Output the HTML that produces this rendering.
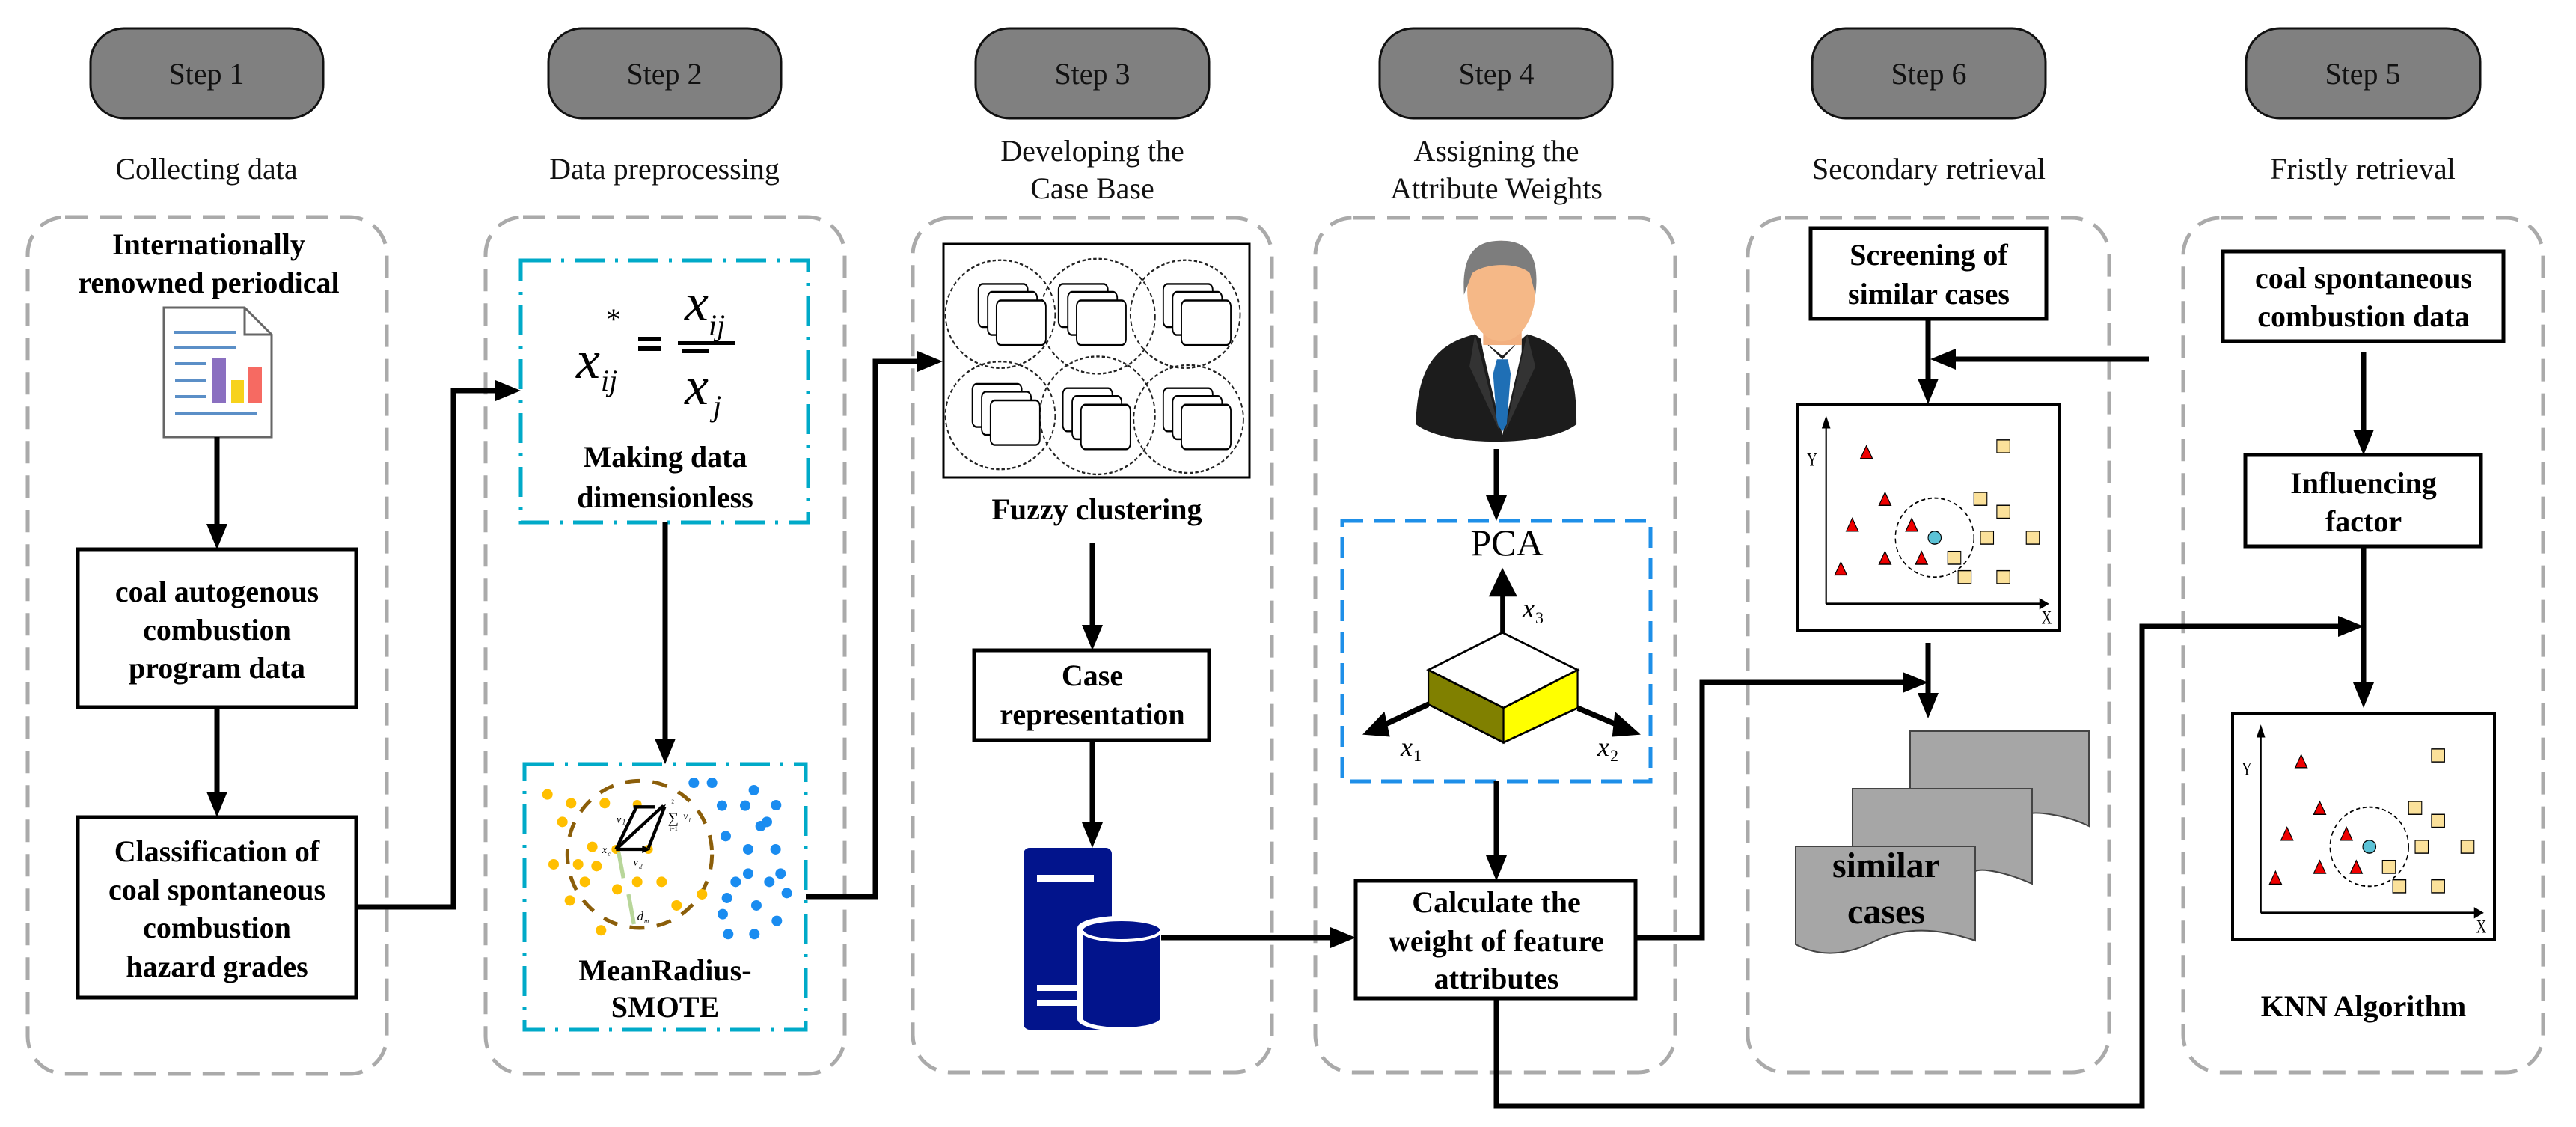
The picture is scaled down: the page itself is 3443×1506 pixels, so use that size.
<!DOCTYPE html>
<html><head><meta charset="utf-8"><style>
html,body{margin:0;padding:0;background:#fff;}
svg{display:block;}
text{font-family:"Liberation Serif",serif;}
.b{font-weight:bold;font-size:40px;}
.r{font-size:40px;}
</style></head><body>
<svg width="3443" height="1506" viewBox="0 0 3443 1506" xmlns="http://www.w3.org/2000/svg">
<rect width="3443" height="1506" fill="#fff"/>
<!-- Step boxes -->
<g fill="#808080" stroke="#111" stroke-width="3">
<rect x="121" y="38" width="311" height="120" rx="45"/>
<rect x="733" y="38" width="311" height="120" rx="45"/>
<rect x="1304" y="38" width="312" height="120" rx="45"/>
<rect x="1844" y="38" width="311" height="120" rx="45"/>
<rect x="2422" y="38" width="312" height="120" rx="45"/>
<rect x="3002" y="38" width="313" height="120" rx="45"/>
</g>
<g class="r" text-anchor="middle" font-size="40" fill="#111">
<text x="276" y="112">Step 1</text>
<text x="888" y="112">Step 2</text>
<text x="1460" y="112">Step 3</text>
<text x="2000" y="112">Step 4</text>
<text x="2578" y="112">Step 6</text>
<text x="3158" y="112">Step 5</text>
<text x="276" y="239">Collecting data</text>
<text x="888" y="239">Data preprocessing</text>
<text x="1460" y="215">Developing the</text>
<text x="1460" y="265">Case Base</text>
<text x="2000" y="215">Assigning the</text>
<text x="2000" y="265">Attribute Weights</text>
<text x="2578" y="239">Secondary retrieval</text>
<text x="3158" y="239">Fristly retrieval</text>
</g>
<!-- Panels -->
<g fill="none" stroke="#aaa" stroke-width="5" stroke-dasharray="30,16">
<rect x="37" y="290" width="480" height="1145" rx="50"/>
<rect x="649" y="290" width="480" height="1145" rx="50"/>
<rect x="1220" y="291" width="480" height="1142" rx="50"/>
<rect x="1758" y="291" width="481" height="1142" rx="50"/>
<rect x="2336" y="291" width="483" height="1142" rx="50"/>
<rect x="2918" y="291" width="481" height="1142" rx="50"/>
</g>

<!-- Panel 1 -->
<g fill="#fff" stroke="#000" stroke-width="5">
<rect x="104" y="734" width="372" height="211"/>
<rect x="104" y="1092" width="372" height="241"/>
</g>
<g class="b" text-anchor="middle">
<text x="279" y="340">Internationally</text>
<text x="279" y="391">renowned periodical</text>
<text x="290" y="804">coal autogenous</text>
<text x="290" y="855">combustion</text>
<text x="290" y="906">program data</text>
<text x="290" y="1151">Classification of</text>
<text x="290" y="1202">coal spontaneous</text>
<text x="290" y="1253">combustion</text>
<text x="290" y="1305">hazard grades</text>
</g>
<!-- doc icon -->
<path d="M219,411 H327 L363,447 V584 H219 Z" fill="#fff" stroke="#666" stroke-width="3"/>
<path d="M327,411 V447 H363" fill="none" stroke="#666" stroke-width="3"/>
<g stroke="#5b8fc7" stroke-width="4">
<line x1="233" y1="444" x2="316" y2="444"/>
<line x1="233" y1="465" x2="316" y2="465"/>
<line x1="234" y1="486" x2="275" y2="486"/>
<line x1="234" y1="508" x2="275" y2="508"/>
<line x1="234" y1="530" x2="275" y2="530"/>
<line x1="234" y1="553" x2="344" y2="553"/>
</g>
<rect x="284" y="478" width="18" height="60" fill="#8a6fc0"/>
<rect x="309" y="508" width="17" height="30" fill="#f7d21c"/>
<rect x="332" y="491" width="18" height="47" fill="#f66a62"/>

<!-- Panel 2 -->
<rect x="696" y="348" width="384" height="350" fill="none" stroke="#00aac8" stroke-width="5" stroke-dasharray="40,14,4,14"/>
<g font-style="italic" font-family="Liberation Serif,serif">
<text x="770" y="505" font-size="72">x</text>
<text x="803" y="522" font-size="40">ij</text>
<text x="810" y="440" font-size="40" font-style="normal">*</text>
<text x="915" y="428" font-size="72">x</text>
<text x="947" y="448" font-size="40">ij</text>
<text x="915" y="540" font-size="72">x</text>
<text x="953" y="556" font-size="40">j</text>
</g>
<rect x="853" y="450" width="30" height="6" fill="#000"/>
<rect x="853" y="463" width="30" height="6" fill="#000"/>
<rect x="906" y="456" width="76" height="5" fill="#000"/>
<rect x="912" y="467" width="36" height="5" fill="#000"/>
<g class="b" text-anchor="middle">
<text x="889" y="624">Making data</text>
<text x="889" y="678">dimensionless</text>
<text x="889" y="1310">MeanRadius-</text>
<text x="889" y="1359">SMOTE</text>
</g>
<rect x="701" y="1021" width="376" height="355" fill="none" stroke="#00aac8" stroke-width="5" stroke-dasharray="40,14,4,14"/>
<g transform="translate(690,1010) scale(0.3333)">
<ellipse cx="495" cy="395" rx="290" ry="295" fill="none" stroke="#8b5e0a" stroke-width="15" stroke-dasharray="60,50"/>
<g fill="#ffbf00">
<circle cx="125" cy="155" r="21"/><circle cx="220" cy="190" r="21"/><circle cx="355" cy="190" r="21"/><circle cx="185" cy="265" r="21"/><circle cx="305" cy="365" r="21"/><circle cx="150" cy="435" r="21"/><circle cx="248" cy="435" r="21"/><circle cx="322" cy="442" r="21"/><circle cx="275" cy="505" r="21"/><circle cx="405" cy="535" r="21"/><circle cx="485" cy="505" r="21"/><circle cx="583" cy="505" r="21"/><circle cx="215" cy="580" r="21"/><circle cx="340" cy="700" r="21"/><circle cx="643" cy="600" r="21"/><circle cx="745" cy="555" r="21"/><circle cx="485" cy="195" r="18"/><circle cx="530" cy="375" r="18"/><circle cx="400" cy="375" r="18"/>
</g>
<g fill="#1a8cf0">
<circle cx="712" cy="108" r="21"/><circle cx="785" cy="108" r="21"/><circle cx="953" cy="138" r="21"/><circle cx="825" cy="200" r="21"/><circle cx="918" cy="200" r="21"/><circle cx="1042" cy="198" r="21"/><circle cx="1005" cy="265" r="21"/><circle cx="980" cy="282" r="21"/><circle cx="840" cy="322" r="21"/><circle cx="930" cy="375" r="21"/><circle cx="1040" cy="375" r="21"/><circle cx="930" cy="472" r="21"/><circle cx="1060" cy="472" r="21"/><circle cx="880" cy="505" r="21"/><circle cx="1015" cy="505" r="21"/><circle cx="1085" cy="550" r="21"/><circle cx="845" cy="570" r="21"/><circle cx="963" cy="600" r="21"/><circle cx="828" cy="635" r="21"/><circle cx="1045" cy="662" r="21"/><circle cx="850" cy="715" r="21"/><circle cx="955" cy="715" r="21"/>
</g>
<line x1="410" y1="385" x2="430" y2="490" stroke="#b8d69a" stroke-width="16"/>
<line x1="450" y1="555" x2="472" y2="675" stroke="#b8d69a" stroke-width="16"/>
<g stroke="#000" stroke-width="13" fill="none">
<line x1="400" y1="375" x2="480" y2="210"/><line x1="470" y1="205" x2="555" y2="205"/>
<line x1="400" y1="375" x2="590" y2="200"/><line x1="400" y1="375" x2="510" y2="375"/><line x1="530" y1="370" x2="595" y2="205"/>
</g>
<polygon points="600,195 570,205 585,225" fill="#000"/><polygon points="540,375 505,360 505,390" fill="#000"/>
<g font-style="italic" font-size="42"><text x="402" y="268">v</text><text x="425" y="275" font-size="28">1</text><text x="470" y="440">v</text><text x="492" y="452" font-size="28">2</text><text x="345" y="390">x</text><text x="367" y="400" font-size="24">c</text><text x="485" y="660" font-size="50">d</text><text x="513" y="670" font-size="26">m</text><text x="670" y="255">v</text><text x="692" y="265" font-size="24">i</text></g>
<text x="608" y="268" font-size="60">∑</text><text x="622" y="190" font-size="22">2</text><text x="615" y="300" font-size="24">i=1</text>
</g>

<!-- Panel 3 -->
<rect x="1261" y="326" width="409" height="312" fill="#fff" stroke="#000" stroke-width="3"/>
<g transform="translate(1150,0) scale(0.7334,0.9605)">
<g fill="none" stroke="#222" stroke-width="2.5" stroke-dasharray="6,4">
<ellipse cx="255" cy="437" rx="100" ry="75"/><ellipse cx="432" cy="440" rx="105" ry="80"/><ellipse cx="592" cy="437" rx="100" ry="75"/>
<ellipse cx="255" cy="578" rx="100" ry="75"/><ellipse cx="432" cy="578" rx="105" ry="82"/><ellipse cx="598" cy="583" rx="100" ry="75"/>
</g>
<g fill="#fff" stroke="#000" stroke-width="2.5">
<rect x="215" y="395" width="90" height="60" rx="8"/><rect x="232" y="406" width="90" height="60" rx="8"/><rect x="248" y="418" width="90" height="62" rx="8"/>
<rect x="361" y="395" width="90" height="60" rx="8"/><rect x="378" y="406" width="90" height="60" rx="8"/><rect x="394" y="418" width="90" height="62" rx="8"/>
<rect x="552" y="395" width="90" height="60" rx="8"/><rect x="569" y="406" width="90" height="60" rx="8"/><rect x="585" y="418" width="90" height="62" rx="8"/>
<rect x="204" y="534" width="90" height="60" rx="8"/><rect x="221" y="545" width="90" height="60" rx="8"/><rect x="237" y="557" width="90" height="62" rx="8"/>
<rect x="369" y="540" width="90" height="60" rx="8"/><rect x="386" y="551" width="90" height="60" rx="8"/><rect x="402" y="563" width="90" height="62" rx="8"/>
<rect x="552" y="540" width="90" height="60" rx="8"/><rect x="569" y="551" width="90" height="60" rx="8"/><rect x="585" y="563" width="90" height="62" rx="8"/>
</g>
</g>
<rect x="1302" y="869" width="314" height="120" fill="#fff" stroke="#000" stroke-width="5"/>
<g class="b" text-anchor="middle">
<text x="1466" y="694">Fuzzy clustering</text>
<text x="1460" y="916">Case</text>
<text x="1460" y="968">representation</text>
</g>
<!-- DB icon -->
<rect x="1368" y="1133" width="118" height="243" rx="8" fill="#02148c"/>
<rect x="1386" y="1169" width="76" height="9" fill="#fff"/>
<rect x="1386" y="1316" width="76" height="8" fill="#fff"/>
<rect x="1386" y="1336" width="76" height="8" fill="#fff"/>
<path d="M1440,1240 a58,16 0 0 1 116,0 V1362 a58,16 0 0 1 -116,0 Z" fill="#fff"/>
<path d="M1447,1244 a52,13 0 0 1 104,0 V1360 a52,13 0 0 1 -104,0 Z" fill="#02148c"/>
<path d="M1447,1244 a52,13 0 0 0 104,0" fill="none" stroke="#fff" stroke-width="4"/>

<!-- Panel 4 -->
<g transform="translate(1150,0) scale(0.7334,0.9605)">
<path d="M1012,590 C1015,520 1040,480 1120,465 L1170,495 L1215,465 C1290,480 1305,520 1305,590 C1260,620 1070,625 1012,590 Z" fill="#1c1c1c"/>
<path d="M1130,470 L1170,500 L1205,470 L1205,490 L1170,605 L1135,490 Z" fill="#fff"/>
<path d="M1160,500 L1180,500 L1185,520 L1178,590 L1170,600 L1160,590 L1153,520 Z" fill="#1f6fb5"/>
<path d="M1120,465 L1165,600 L1110,510 Z M1215,465 L1175,600 L1230,510 Z" fill="#333"/>
<rect x="1135" y="430" width="70" height="50" fill="#f2b080"/>
<ellipse cx="1168" cy="405" rx="62" ry="70" fill="#f5b887"/>
<path d="M1100,410 C1095,345 1130,335 1168,335 C1210,335 1240,350 1230,410 L1220,380 C1200,365 1140,365 1115,380 Z" fill="#7d7d7d"/>
<polygon points="1035,932 1170,880 1307,932 1172,985" fill="#fff" stroke="#000" stroke-width="3"/>
<polygon points="1035,932 1172,985 1172,1033 1035,980" fill="#808000" stroke="#000" stroke-width="3"/>
<polygon points="1172,985 1307,932 1307,985 1172,1033" fill="#ffff00" stroke="#000" stroke-width="3"/>
<g stroke="#000" stroke-width="8"><line x1="1170" y1="880" x2="1170" y2="820"/><line x1="1035" y1="980" x2="950" y2="1010"/><line x1="1307" y1="985" x2="1390" y2="1012"/></g>
<polygon points="1170,790 1145,830 1197,830" fill="#000"/>
<polygon points="915,1022 955,990 965,1025" fill="#000"/>
<polygon points="1422,1022 1375,990 1370,1025" fill="#000"/>
</g>
<rect x="1794" y="696" width="412" height="348" fill="none" stroke="#1e8fe8" stroke-width="5" stroke-dasharray="28,14"/>
<text x="2014" y="742" font-size="50" text-anchor="middle">PCA</text>
<g font-style="italic" font-size="36"><text x="2035" y="825">x</text><text x="2052" y="833" font-size="22" font-style="normal">3</text><text x="1872" y="1010">x</text><text x="1889" y="1017" font-size="22" font-style="normal">1</text><text x="2135" y="1010">x</text><text x="2152" y="1017" font-size="22" font-style="normal">2</text></g>
<rect x="1812" y="1177" width="374" height="157" fill="#fff" stroke="#000" stroke-width="5"/>
<g class="b" text-anchor="middle">
<text x="2000" y="1219">Calculate the</text>
<text x="2000" y="1271">weight of feature</text>
<text x="2000" y="1321">attributes</text>
</g>

<!-- Panel 6 -->
<rect x="2420" y="305" width="315" height="121" fill="#fff" stroke="#000" stroke-width="5"/>
<g class="b" text-anchor="middle">
<text x="2578" y="354">Screening of</text>
<text x="2578" y="406">similar cases</text>
</g>
<rect x="2403" y="540" width="350" height="302" fill="#fff" stroke="#000" stroke-width="4"/>
<rect x="2984" y="953" width="350" height="302" fill="#fff" stroke="#000" stroke-width="4"/>
<g transform="translate(2300,0) scale(0.729,0.9605)">
<g>
<line x1="193" y1="840" x2="590" y2="840" stroke="#000" stroke-width="3"/>
<line x1="193" y1="840" x2="193" y2="590" stroke="#000" stroke-width="3"/>
<polygon points="193,578 185,596 201,596" fill="#000"/><polygon points="602,840 584,832 584,848" fill="#000"/>
<text x="158" y="648" font-size="26">Y</text><text x="588" y="868" font-size="26">X</text>
<ellipse cx="392" cy="748" rx="72" ry="55" fill="none" stroke="#000" stroke-width="2" stroke-dasharray="7,5"/>
<g fill="#e00" stroke="#000" stroke-width="1.5">
<polygon points="267,620 256,638 278,638"/><polygon points="301,685 290,703 312,703"/><polygon points="241,721 230,739 252,739"/><polygon points="350,721 339,739 361,739"/><polygon points="220,782 209,800 231,800"/><polygon points="301,767 290,785 312,785"/><polygon points="368,767 357,785 379,785"/>
</g>
<g fill="#fbe19a" stroke="#000" stroke-width="1.5">
<rect x="506" y="612" width="24" height="18"/><rect x="464" y="685" width="24" height="18"/><rect x="506" y="703" width="24" height="18"/><rect x="476" y="739" width="24" height="18"/><rect x="560" y="739" width="24" height="18"/><rect x="416" y="767" width="24" height="18"/><rect x="435" y="794" width="24" height="18"/><rect x="506" y="794" width="24" height="18"/>
</g>
<ellipse cx="392" cy="748" rx="12" ry="9" fill="#5bc2d6" stroke="#000" stroke-width="1.5"/>
</g>
<g transform="translate(797,430)">
<line x1="193" y1="840" x2="590" y2="840" stroke="#000" stroke-width="3"/>
<line x1="193" y1="840" x2="193" y2="590" stroke="#000" stroke-width="3"/>
<polygon points="193,578 185,596 201,596" fill="#000"/><polygon points="602,840 584,832 584,848" fill="#000"/>
<text x="158" y="648" font-size="26">Y</text><text x="588" y="868" font-size="26">X</text>
<ellipse cx="392" cy="748" rx="72" ry="55" fill="none" stroke="#000" stroke-width="2" stroke-dasharray="7,5"/>
<g fill="#e00" stroke="#000" stroke-width="1.5">
<polygon points="267,620 256,638 278,638"/><polygon points="301,685 290,703 312,703"/><polygon points="241,721 230,739 252,739"/><polygon points="350,721 339,739 361,739"/><polygon points="220,782 209,800 231,800"/><polygon points="301,767 290,785 312,785"/><polygon points="368,767 357,785 379,785"/>
</g>
<g fill="#fbe19a" stroke="#000" stroke-width="1.5">
<rect x="506" y="612" width="24" height="18"/><rect x="464" y="685" width="24" height="18"/><rect x="506" y="703" width="24" height="18"/><rect x="476" y="739" width="24" height="18"/><rect x="560" y="739" width="24" height="18"/><rect x="416" y="767" width="24" height="18"/><rect x="435" y="794" width="24" height="18"/><rect x="506" y="794" width="24" height="18"/>
</g>
<ellipse cx="392" cy="748" rx="12" ry="9" fill="#5bc2d6" stroke="#000" stroke-width="1.5"/>
</g>
</g>
<!-- similar cases docs -->
<g fill="#a6a6a6" stroke="#444" stroke-width="2">
<path d="M2553,977 H2792 V1104 C2760,1088 2720,1085 2716,1087 V1054 H2553 Z"/>
<path d="M2476,1054 H2716 V1181 C2680,1165 2650,1160 2640,1164 V1131 H2476 Z"/>
<path d="M2400,1131 H2640 V1257 C2590,1240 2545,1238 2505,1258 C2465,1278 2430,1278 2400,1262 Z"/>
</g>
<g text-anchor="middle" font-weight="bold" font-size="48" font-family="Liberation Serif,serif">
<text x="2521" y="1172" font-family="Liberation Serif,serif">similar</text>
<text x="2521" y="1234" font-family="Liberation Serif,serif">cases</text>
</g>

<!-- Panel 5 -->
<rect x="2971" y="336" width="375" height="120" fill="#fff" stroke="#000" stroke-width="5"/>
<rect x="3001" y="608" width="315" height="122" fill="#fff" stroke="#000" stroke-width="5"/>
<g class="b" text-anchor="middle">
<text x="3159" y="385">coal spontaneous</text>
<text x="3159" y="436">combustion data</text>
<text x="3159" y="659">Influencing</text>
<text x="3159" y="710">factor</text>
<text x="3159" y="1358">KNN Algorithm</text>
</g>

<!-- Connectors -->
<g fill="none" stroke="#000" stroke-width="7" stroke-linejoin="miter">
<line x1="290" y1="584" x2="290" y2="705"/>
<line x1="290" y1="945" x2="290" y2="1063"/>
<polyline points="476,1212 606,1212 606,522 668,522"/>
<line x1="889" y1="698" x2="889" y2="992"/>
<polyline points="1077,1198 1170,1198 1170,483 1232,483"/>
<line x1="1460" y1="725" x2="1460" y2="840"/>
<line x1="1460" y1="989" x2="1460" y2="1104"/>
<line x1="1552" y1="1253" x2="1784" y2="1253"/>
<line x1="2000" y1="600" x2="2000" y2="668"/>
<line x1="2000" y1="1044" x2="2000" y2="1149"/>
<polyline points="2186,1253 2275,1253 2275,912 2549,912"/>
<line x1="2577" y1="426" x2="2577" y2="512"/>
<line x1="2872" y1="480" x2="2608" y2="480"/>
<line x1="2577" y1="859" x2="2577" y2="932"/>
<polyline points="2000,1334 2000,1478 2863,1478 2863,837 3131,837"/>
<line x1="3159" y1="470" x2="3159" y2="580"/>
<line x1="3159" y1="730" x2="3159" y2="918"/>
</g>
<g fill="#000">
<polygon points="276,700 304,700 290,734"/>
<polygon points="276,1058 304,1058 290,1092"/>
<polygon points="662,508 662,536 696,522"/>
<polygon points="875,987 903,987 889,1021"/>
<polygon points="1226,469 1226,497 1260,483"/>
<polygon points="1446,835 1474,835 1460,869"/>
<polygon points="1446,1099 1474,1099 1460,1133"/>
<polygon points="1778,1239 1778,1267 1812,1253"/>
<polygon points="1986,662 2014,662 2000,696"/>
<polygon points="1986,1143 2014,1143 2000,1177"/>
<polygon points="2543,898 2543,926 2577,912"/>
<polygon points="2563,506 2591,506 2577,540"/>
<polygon points="2614,466 2614,494 2580,480"/>
<polygon points="2563,926 2591,926 2577,960"/>
<polygon points="3125,823 3125,851 3159,837"/>
<polygon points="3145,574 3173,574 3159,608"/>
<polygon points="3145,912 3173,912 3159,946"/>
</g>
</svg>
</body></html>
